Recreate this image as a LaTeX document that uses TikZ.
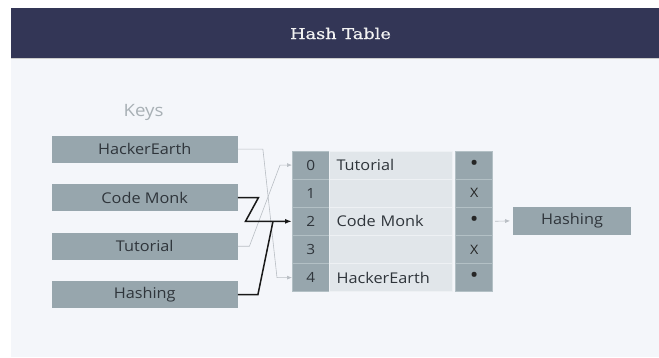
\documentclass[tikz,border=0pt]{standalone}
\usepackage{fontspec}
\setmainfont{Open Sans}[FakeStretch=1.1]
\newfontfamily\titlefont{DejaVu Serif}[FakeStretch=1.2,FakeBold=0.6]
\usetikzlibrary{calc,arrows.meta}
\definecolor{hdr}{HTML}{333656}
\definecolor{panel}{HTML}{F4F6FA}
\definecolor{boxg}{HTML}{97A6AD}
\definecolor{cellL}{HTML}{E1E6EA}
\definecolor{txt}{HTML}{2F353B}
\definecolor{keysc}{HTML}{A8B0B5}
\definecolor{thinln}{HTML}{B9BEC4}
\definecolor{sepd}{HTML}{B3C0C5}
\definecolor{sepl}{HTML}{EEF1F4}
\tikzset{
  keybox/.style={minimum width=186pt, minimum height=27pt, inner sep=0pt, fill=boxg, text=txt, font=\fontsize{14.8}{16}\selectfont},
  idx/.style={minimum width=37pt, minimum height=28.14pt, inner sep=0pt, fill=boxg, draw=sepd, line width=0.6pt, text=txt, font=\fontsize{14}{16}\selectfont},
  mid/.style={minimum width=123.4pt, minimum height=28.14pt, inner sep=0pt, fill=cellL, draw=sepl, line width=0.6pt, text=txt, text width=109pt, align=left, font=\fontsize{14.8}{16}\selectfont},
  ptr/.style={minimum width=37pt, minimum height=28.14pt, inner sep=0pt, fill=boxg, draw=sepd, line width=0.6pt, text=black!85, font=\fontsize{13}{15}\selectfont},
  dotc/.style={font=\fontsize{21}{21}\selectfont},
  gline/.style={draw=thinln, line width=0.6pt, -{Latex[length=5pt,width=4pt]}},
  bline/.style={draw=black!90, line width=1.5pt},
}
\begin{document}
\begin{tikzpicture}[x=1pt,y=-1pt]
\useasboundingbox (0,0) rectangle (659,358);
\fill[white] (0,0) rectangle (659,358);
\fill[panel] (11,58) rectangle (659,357);
\fill[hdr] (11,8) rectangle (659,58);
\draw[black!20, line width=0.8pt] (11,58.4) -- (659,58.4);
\node[text=white!95!black, font=\titlefont\fontsize{14.8}{16}\selectfont] (title) at (340.5,33.5) {Hash Table};

\node[text=keysc, font=\fontsize{17}{19}\selectfont] (keys) at (143.5,112) {Keys};

\node[keybox] (k1) at (144.7,149.2) {HackerEarth};
\node[keybox] (k2) at (144.7,197.7) {Code Monk};
\node[keybox] (k3) at (144.7,246.3) {Tutorial};
\node[keybox] (k4) at (144.7,294.7) {Hashing};

\node[idx] (i0) at (310.8,165.07) {0};
\node[idx] (i1) at (310.8,193.21) {1};
\node[idx] (i2) at (310.8,221.35) {2};
\node[idx] (i3) at (310.8,249.49) {3};
\node[idx] (i4) at (310.8,277.63) {4};

\node[mid] (m0) at (391,165.07) {Tutorial};
\node[mid] (m1) at (391,193.21) {};
\node[mid] (m2) at (391,221.35) {Code Monk};
\node[mid] (m3) at (391,249.49) {};
\node[mid] (m4) at (391,277.63) {HackerEarth};

\node[ptr, dotc] (p0) at (474.2,165.07) {•};
\node[ptr] (p1) at (474.2,193.21) {X};
\node[ptr, dotc] (p2) at (474.2,221.35) {•};
\node[ptr] (p3) at (474.2,249.49) {X};
\node[ptr, dotc] (p4) at (474.2,277.63) {•};

\node[keybox, minimum width=117.4pt, minimum height=28.3pt] (h) at (572,220.8) {Hashing};

\draw[gline] (k1.east) -- ++(25,0) -- ($(i4.west)+(-15,0)$) -- (i4.west);
\draw[gline] (k3.east) -- ++(11.5,0) -- ($(i0.west)+(-12,0)$) -- (i0.west);
\coordinate (join) at ($(i2.west)+(-19,0)$);
\draw[bline, -{Latex[length=7pt,width=5pt]}] (k2.east) -- ++(20.5,0) -- ($(i2.west)+(-46.5,0)$) -- (i2.west);
\draw[bline] (k4.east) -- ++(20,0) -- (join);
\draw[gline, shorten <=2pt, shorten >=3pt] (p2.east) -- (h.west);
\end{tikzpicture}
\end{document}
